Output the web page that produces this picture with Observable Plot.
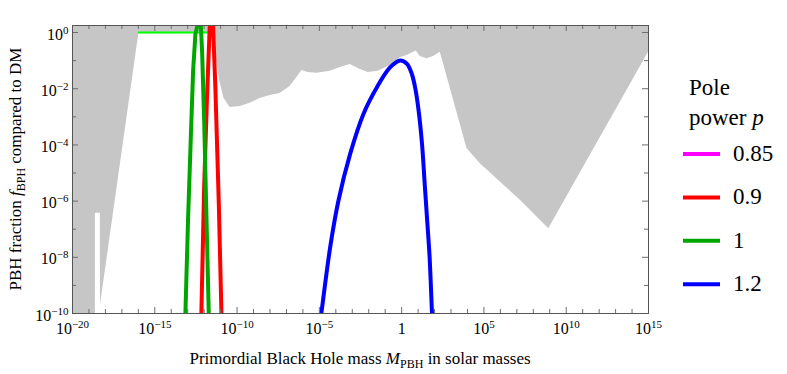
<!DOCTYPE html>
<html><head><meta charset="utf-8">
<script src="https://cdn.jsdelivr.net/npm/d3@7"></script>
<script src="https://cdn.jsdelivr.net/npm/@observablehq/plot@0.6"></script>
<style>
body{margin:0;background:#fff;}
#chart{position:relative;width:787px;height:374px;}
</style></head><body><div id="chart"></div>
<script>
// ---- data (log10 of mass in solar masses, log10 of f) ----
// upper limit on f_PBH (excluded region above is shaded)
const boundLogM = [-20,-18.61,-18.607,-18.31,-18.30,-15.97,-11.64,-11.455,-11.27,-11.03,-10.79,-10.42,-9.81,-9.21,-8.60,-7.99,-7.39,-6.78,-6.41,-6.06,-5.68,-5.15,-4.34,-3.63,-3.12,-2.51,-2.03,-1.42,-0.69,-0.09,0.32,0.89,1.13,1.54,1.94,2.35,3.97,4.78,7.21,8.94,15];
const boundLogF = [-10,-10,-6.43,-6.43,-9.70,-0.04,-0.035,-0.28,-0.92,-1.78,-2.35,-2.67,-2.63,-2.52,-2.35,-2.24,-2.17,-1.92,-1.64,-1.35,-1.42,-1.45,-1.38,-1.23,-1.14,-1.32,-1.42,-1.38,-1.17,-0.90,-0.82,-0.66,-0.85,-0.93,-0.85,-0.70,-4.13,-4.67,-5.97,-6.98,-0.70];
// f = 1 line
const limitLogM = [-15.97,-11.66];
const limitLogF = [0,0];
// pole power p = 0.9
const p09LogM = [-12.19,-12.17,-12.00,-11.84,-11.66,-11.56,-11.46,-11.32,-11.11,-10.95,-10.94];
const p09LogF = [-10.3,-10,-5.50,-2.53,0.25,0.55,0.25,-1.94,-6.09,-10,-10.3];
// pole power p = 1
const p1LogM = [-13.16,-13.14,-12.98,-12.81,-12.67,-12.53,-12.41,-12.31,-12.20,-12.12,-12.00,-11.88,-11.72,-11.70];
const p1LogF = [-10.3,-10,-6.68,-3.72,-1.35,-0.05,0.25,0.6,0.25,-0.76,-3.13,-6.08,-10,-10.3];
// pole power p = 1.2
const p12LogM = [-4.95,-4.88,-4.34,-3.835,-3.123,-2.315,-1.50,-0.69,-0.083,0.325,0.629,0.83,1.03,1.237,1.407,1.559,1.699,1.845,1.87];
const p12LogF = [-10.3,-10,-7.63,-5.97,-4.31,-2.89,-1.945,-1.234,-0.995,-1.113,-1.493,-1.99,-2.773,-3.957,-5.44,-6.754,-7.99,-10,-10.3];

const legendLabels = ["0.85","0.9","1","1.2"];
const legendColors = ["#ff00ff","#ff0000","#00a600","#0000ff"];

const xTickExps = d3.range(-20,16);
const xLabelExps = [-20,-15,-10,-5,0,5,10,15];
const yTickExps = d3.range(-10,1);
const yLabelExps = [-10,-8,-6,-4,-2,0];

// ---- build tables ----
const toRows = (lm, lf) => lm.map((m,i)=>({m:10**m, f:10**lf[i]}));
const bound = toRows(boundLogM, boundLogF);
const limit = toRows(limitLogM, limitLogF);
const p09 = toRows(p09LogM, p09LogF);
const p1 = toRows(p1LogM, p1LogF);
const p12 = toRows(p12LogM, p12LogF);

const W=787,H=374,mL=72,mR=139,mT=25,mB=61;
const fw=W-mL-mR, fh=H-mT-mB;
const yTop = 10**0.25;
const font = "'Liberation Serif','Times New Roman',serif";
const xMajor = xLabelExps.map(e=>10**e);
const xMinor = xTickExps.filter(e=>!xLabelExps.includes(e)).map(e=>10**e);
const yMajor = yLabelExps.map(e=>10**e);
const yMinor = yTickExps.filter(e=>!yLabelExps.includes(e)).map(e=>10**e);
const fmt = (isX) => d => { const e=Math.round(Math.log10(d)); return (isX && e===0) ? "1" : "10^"+e; };
const tc = "#6e6e6e";

const plot = Plot.plot({
  width:W, height:H, marginLeft:mL, marginRight:mR, marginTop:mT, marginBottom:mB,
  style:{fontFamily:font, fontSize:"16px", background:"#fff", color:"#000"},
  x:{type:"log", domain:[1e-20,1e15], label:null},
  y:{type:"log", domain:[1e-10,yTop], label:null},
  marks:[
    Plot.areaY(bound, {x:"m", y1:"f", y2:()=>yTop, fill:"#c6c6c6", curve:"linear", clip:true}),
    Plot.line(limit, {x:"m", y:"f", stroke:"#00ff00", strokeWidth:2, clip:true}),
    Plot.line(p09, {x:"m", y:"f", stroke:legendColors[1], strokeWidth:4, clip:true, curve:"linear"}),
    Plot.line(p1, {x:"m", y:"f", stroke:legendColors[2], strokeWidth:4, clip:true, curve:"linear"}),
    Plot.line(p12, {x:"m", y:"f", stroke:legendColors[3], strokeWidth:4, clip:true, curve:"catmull-rom"}),
    // inward ticks on all four sides
    Plot.tickX(xMajor, {x:d=>d, insetTop:fh-6, stroke:tc}),
    Plot.tickX(xMinor, {x:d=>d, insetTop:fh-4, stroke:tc}),
    Plot.tickX(xMajor, {x:d=>d, insetBottom:fh-6, stroke:tc}),
    Plot.tickX(xMinor, {x:d=>d, insetBottom:fh-4, stroke:tc}),
    Plot.tickY(yMajor, {y:d=>d, insetRight:fw-6, stroke:tc}),
    Plot.tickY(yMinor, {y:d=>d, insetRight:fw-4, stroke:tc}),
    Plot.tickY(yMajor, {y:d=>d, insetLeft:fw-6, stroke:tc}),
    Plot.tickY(yMinor, {y:d=>d, insetLeft:fw-4, stroke:tc}),
    Plot.frame({stroke:"#555"}),
    Plot.axisX(xMajor, {tickSize:0, tickPadding:9, tickFormat:fmt(true), fontSize:16, label:null}),
    Plot.axisY(yMajor, {tickSize:0, tickPadding:4, tickFormat:fmt(false), fontSize:16, dy:2, label:null})
  ]
});
document.getElementById("chart").appendChild(plot);

const svg = d3.select(plot);
// superscripts in tick labels
svg.selectAll('g[aria-label="x-axis tick label"] text, g[aria-label="y-axis tick label"] text').each(function(){
  const t = d3.select(this);
  t.style("font-family", font).style("font-size","16px");
  const s = this.textContent;
  const m = s.match(/^10\^(-?\d+)$/);
  if (!m) return;
  const e = +m[1];
  t.text(null);
  t.append("tspan").text("10");
  t.append("tspan").attr("dy",-6).style("font-size","11px").text(e<0 ? "\u2212"+(-e) : String(e));
});

const txt = (sel, x, y, size, anchor) => sel.append("text").attr("x",x).attr("y",y)
  .style("font-family",font).style("font-size",size+"px").style("text-anchor",anchor).attr("fill","#000");

// axis titles
const xt = txt(svg, mL+fw/2, 364, 17, "middle");
xt.append("tspan").text("Primordial Black Hole mass ");
xt.append("tspan").style("font-style","italic").text("M");
xt.append("tspan").style("font-size","12px").attr("dy",4).text("PBH");
xt.append("tspan").attr("dy",-4).text(" in solar masses");

const yt = txt(svg, 0, 0, 17, "middle").attr("transform",`translate(21,${mT+fh/2}) rotate(-90)`);
yt.append("tspan").text("PBH fraction ");
yt.append("tspan").style("font-style","italic").text("f");
yt.append("tspan").style("font-size","12px").attr("dy",4).text("BPH");
yt.append("tspan").attr("dy",-4).text(" compared to DM");

// legend
const lg = svg.append("g");
txt(lg, 689, 95, 23, "start").text("Pole");
const pw = txt(lg, 689, 125, 23, "start");
pw.append("tspan").text("power ");
pw.append("tspan").style("font-style","italic").text("p");
legendLabels.forEach((lab,i)=>{
  const y = 154 + i*43.4;
  lg.append("line").attr("x1",683).attr("x2",720).attr("y1",y).attr("y2",y)
    .attr("stroke",legendColors[i]).attr("stroke-width",4);
  txt(lg, 733, y+7, 23, "start").text(lab);
});
</script></body></html>
